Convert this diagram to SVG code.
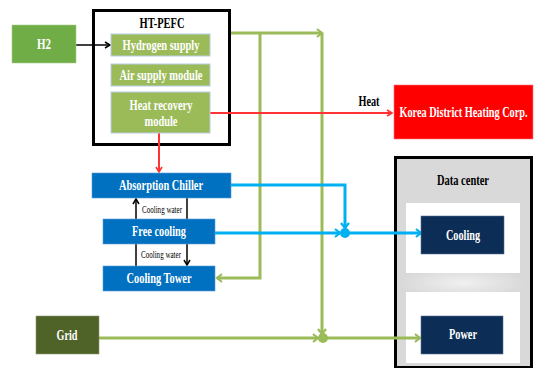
<svg xmlns="http://www.w3.org/2000/svg" width="536" height="368" viewBox="0 0 536 368">
<style>
.t{font-family:"Liberation Serif","Times New Roman",serif;font-weight:bold;font-size:14px;fill:#fff;text-anchor:middle}
.k{fill:#000}
.s{font-family:"Liberation Serif","Times New Roman",serif;font-size:10px;fill:#000}
.olive{fill:#9BBB59;stroke:#B9CDE5;stroke-width:1}
.blue{fill:#0070C0;stroke:#5B9BD5;stroke-width:0.6}
.navy{fill:#0C2D55;stroke:#5A7496;stroke-width:0.6}
.g{stroke:#9BBB59;stroke-width:3;fill:none}
.b{stroke:#00B0F0;stroke-width:3;fill:none}
.r{stroke:#FF3333;stroke-width:2;fill:none}
.kl{stroke:#000;stroke-width:1.5;fill:none}
</style>
<defs>
<marker id="ag" markerWidth="8" markerHeight="10" refX="6" refY="5" orient="auto" markerUnits="userSpaceOnUse"><path d="M1,1 L6,5 L1,9" fill="none" stroke="#9BBB59" stroke-width="2.2"/></marker>
<marker id="ab" markerWidth="8" markerHeight="10" refX="6" refY="5" orient="auto" markerUnits="userSpaceOnUse"><path d="M1,1 L6,5 L1,9" fill="none" stroke="#00B0F0" stroke-width="2.2"/></marker>
<marker id="ar" markerWidth="8" markerHeight="8" refX="6" refY="4" orient="auto" markerUnits="userSpaceOnUse"><path d="M1,1 L6,4 L1,7" fill="none" stroke="#FF3333" stroke-width="1.6"/></marker>
<marker id="ak" markerWidth="8" markerHeight="8" refX="6" refY="4" orient="auto" markerUnits="userSpaceOnUse"><path d="M1,1 L6,4 L1,7" fill="none" stroke="#000" stroke-width="1.5"/></marker>
<radialGradient id="mid" cx="0.5" cy="0.5" r="0.5"><stop offset="0" stop-color="#F0F0F0"/><stop offset="1" stop-color="#D9D9D9"/></radialGradient>
</defs>

<g id="datacenter">
<rect x="395.5" y="157.5" width="136" height="210" fill="#D9D9D9" stroke="#000" stroke-width="3"/>
<rect x="400" y="268" width="126" height="30" fill="url(#mid)"/>
<rect x="406" y="203" width="114" height="70" fill="#fff"/>
<rect x="406" y="292" width="114" height="71" fill="#fff"/>
<text class="t k" x="463" y="185" textLength="52" lengthAdjust="spacingAndGlyphs">Data center</text>
</g>

<g id="htpefc">
<rect x="93.5" y="10.5" width="136" height="134" fill="#fff" stroke="#000" stroke-width="3"/>
<text class="t k" x="162" y="28" textLength="45" lengthAdjust="spacingAndGlyphs">HT-PEFC</text>
</g>

<g id="connectors">
<line class="kl" x1="76" y1="45" x2="110" y2="45" marker-end="url(#ak)"/>
<polyline class="g" points="231,33 322,33" marker-end="url(#ag)"/>
<line class="g" x1="322" y1="33" x2="322" y2="334" marker-end="url(#ag)"/>
<polyline class="g" points="260,33 260,278 217,278" marker-end="url(#ag)"/>
<line class="g" x1="99" y1="338" x2="318" y2="338" marker-end="url(#ag)"/>
<line class="g" x1="323" y1="338" x2="420" y2="338" marker-end="url(#ag)"/>
<circle cx="323" cy="338" r="5" fill="#9BBB59"/>
<line class="r" x1="210" y1="113" x2="392" y2="113" marker-end="url(#ar)"/>
<line class="r" x1="159" y1="133" x2="159" y2="172" marker-end="url(#ar)"/>
<polyline class="b" points="231,185 345,185 345,228" marker-end="url(#ab)"/>
<line class="b" x1="215" y1="233" x2="340" y2="233" marker-end="url(#ab)"/>
<line class="b" x1="345" y1="233" x2="421" y2="233" marker-end="url(#ab)"/>
<circle cx="345" cy="233" r="5" fill="#00B0F0"/>
<line class="kl" x1="136" y1="219" x2="136" y2="199" marker-end="url(#ak)"/>
<line class="kl" x1="187" y1="198" x2="187" y2="219"/>
<line class="kl" x1="136" y1="266" x2="136" y2="244"/>
<line class="kl" x1="187" y1="244" x2="187" y2="265" marker-end="url(#ak)"/>
<text class="s" x="142" y="213" textLength="40" lengthAdjust="spacingAndGlyphs">Cooling water</text>
<text class="s" x="141" y="258" textLength="40" lengthAdjust="spacingAndGlyphs">Cooling water</text>
<text class="t k" x="369" y="106" textLength="21" lengthAdjust="spacingAndGlyphs">Heat</text>
</g>

<g id="h2">
<rect x="12" y="25" width="64" height="38" fill="#70AD47" stroke="#A9D18E" stroke-width="0.6"/>
<text class="t" x="44" y="49" textLength="14" lengthAdjust="spacingAndGlyphs">H2</text>
</g>
<g id="hydrogen-supply">
<rect class="olive" x="111" y="34" width="99" height="22"/>
<text class="t" x="161" y="50" textLength="77" lengthAdjust="spacingAndGlyphs">Hydrogen supply</text>
</g>
<g id="air-supply">
<rect class="olive" x="111" y="64" width="99" height="22"/>
<text class="t" x="161" y="80" textLength="83" lengthAdjust="spacingAndGlyphs">Air supply module</text>
</g>
<g id="heat-recovery">
<rect class="olive" x="111" y="92" width="99" height="41"/>
<text class="t" x="161" y="110" textLength="63" lengthAdjust="spacingAndGlyphs">Heat recovery</text>
<text class="t" x="161" y="126" textLength="33" lengthAdjust="spacingAndGlyphs">module</text>
</g>
<g id="kdhc">
<rect x="394" y="85" width="139" height="54" fill="#FF0000" stroke="#FF7C80" stroke-width="0.6"/>
<text class="t" transform="translate(463.5,117) scale(0.735,1)" x="0" y="0">Korea District Heating Corp.</text>
</g>
<g id="absorption-chiller">
<rect class="blue" x="92" y="173" width="139" height="25"/>
<text class="t" x="161" y="190" textLength="84" lengthAdjust="spacingAndGlyphs">Absorption Chiller</text>
</g>
<g id="free-cooling">
<rect class="blue" x="103" y="219" width="112" height="25"/>
<text class="t" x="159" y="236" textLength="54" lengthAdjust="spacingAndGlyphs">Free cooling</text>
</g>
<g id="cooling-tower">
<rect class="blue" x="103" y="266" width="112" height="25"/>
<text class="t" x="159" y="283" textLength="65" lengthAdjust="spacingAndGlyphs">Cooling Tower</text>
</g>
<g id="grid">
<rect x="36" y="316" width="63" height="38" fill="#4F6228" stroke="#8C9A70" stroke-width="0.6"/>
<text class="t" x="67" y="340" textLength="21" lengthAdjust="spacingAndGlyphs">Grid</text>
</g>
<g id="cooling">
<rect class="navy" x="421" y="216" width="83" height="38"/>
<text class="t" x="463" y="240" textLength="34" lengthAdjust="spacingAndGlyphs">Cooling</text>
</g>
<g id="power">
<rect class="navy" x="421" y="316" width="82" height="38"/>
<text class="t" x="463" y="339" textLength="28" lengthAdjust="spacingAndGlyphs">Power</text>
</g>
</svg>
